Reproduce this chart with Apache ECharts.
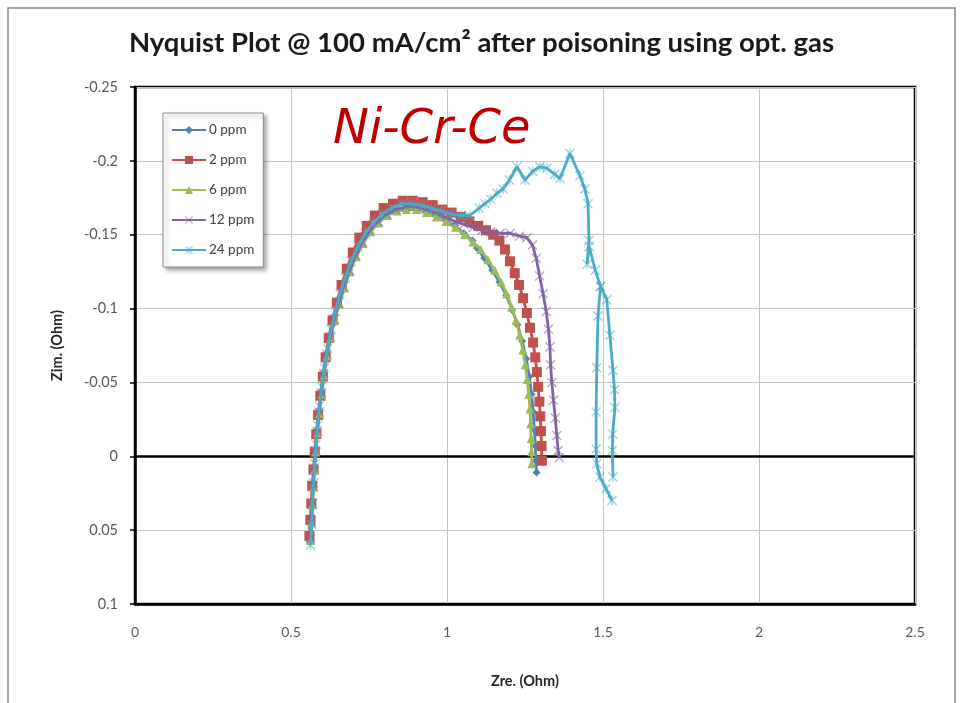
<!DOCTYPE html>
<html>
<head>
<meta charset="utf-8">
<script src="https://cdn.jsdelivr.net/npm/echarts@6/dist/echarts.min.js"></script>
<style>html,body{margin:0;padding:0;background:#fff}#c{width:963px;height:703px}</style>
</head>
<body>
<div id="c"></div>
<script>
const seriesNames = ['0 ppm', '2 ppm', '6 ppm', '12 ppm', '24 ppm'];
const xTicks = [0, 0.5, 1, 1.5, 2, 2.5];
const yTicks = [-0.25, -0.2, -0.15, -0.1, -0.05, 0, 0.05, 0.1];

const ppm0 = [[0.561,0.058],[0.565,0.045],[0.568,0.033],[0.571,0.020],[0.574,0.008],[0.578,-0.004],[0.583,-0.017],[0.589,-0.030],[0.596,-0.043],[0.604,-0.056],[0.614,-0.069],[0.625,-0.081],[0.638,-0.093],[0.652,-0.104],[0.668,-0.115],[0.686,-0.126],[0.706,-0.136],[0.728,-0.145],[0.752,-0.153],[0.778,-0.159],[0.806,-0.164],[0.836,-0.167],[0.868,-0.168],[0.900,-0.168],[0.932,-0.166],[0.964,-0.163],[0.995,-0.160],[1.025,-0.156],[1.054,-0.151],[1.082,-0.146],[1.096,-0.141],[1.120,-0.134],[1.145,-0.126],[1.168,-0.118],[1.190,-0.109],[1.209,-0.099],[1.226,-0.089],[1.241,-0.078],[1.254,-0.066],[1.264,-0.054],[1.271,-0.042],[1.276,-0.030],[1.280,-0.018],[1.283,-0.007],[1.285,0.003],[1.287,0.011]];

const ppm2 = [[0.559,0.054],[0.562,0.043],[0.565,0.032],[0.568,0.020],[0.572,0.009],[0.576,-0.003],[0.581,-0.015],[0.587,-0.028],[0.594,-0.041],[0.602,-0.054],[0.611,-0.067],[0.621,-0.080],[0.633,-0.092],[0.647,-0.104],[0.662,-0.116],[0.679,-0.127],[0.698,-0.138],[0.719,-0.148],[0.743,-0.156],[0.769,-0.163],[0.797,-0.168],[0.827,-0.171],[0.858,-0.173],[0.890,-0.173],[0.922,-0.172],[0.954,-0.170],[0.985,-0.167],[1.015,-0.165],[1.044,-0.162],[1.072,-0.159],[1.100,-0.156],[1.125,-0.153],[1.148,-0.150],[1.168,-0.146],[1.186,-0.140],[1.202,-0.132],[1.217,-0.124],[1.231,-0.116],[1.244,-0.107],[1.256,-0.097],[1.266,-0.087],[1.276,-0.077],[1.283,-0.067],[1.288,-0.057],[1.292,-0.047],[1.296,-0.037],[1.299,-0.027],[1.301,-0.017],[1.303,-0.007],[1.304,0.003]];

const ppm6 = [[0.563,0.057],[0.566,0.045],[0.569,0.033],[0.572,0.021],[0.576,0.009],[0.580,-0.003],[0.585,-0.016],[0.591,-0.029],[0.598,-0.042],[0.606,-0.055],[0.616,-0.068],[0.627,-0.080],[0.640,-0.092],[0.655,-0.103],[0.671,-0.114],[0.689,-0.125],[0.709,-0.135],[0.731,-0.144],[0.755,-0.152],[0.781,-0.158],[0.809,-0.163],[0.839,-0.166],[0.870,-0.167],[0.902,-0.167],[0.934,-0.165],[0.966,-0.162],[0.997,-0.159],[1.027,-0.155],[1.056,-0.150],[1.083,-0.145],[1.108,-0.140],[1.131,-0.133],[1.153,-0.126],[1.173,-0.118],[1.191,-0.110],[1.207,-0.101],[1.221,-0.092],[1.233,-0.082],[1.243,-0.072],[1.251,-0.062],[1.257,-0.052],[1.262,-0.042],[1.266,-0.032],[1.268,-0.022],[1.270,-0.012],[1.271,-0.003],[1.272,0.005]];

const ppm12 = [[0.562,0.056],[0.565,0.044],[0.568,0.032],[0.571,0.020],[0.575,0.008],[0.579,-0.004],[0.584,-0.017],[0.590,-0.030],[0.597,-0.043],[0.605,-0.056],[0.615,-0.069],[0.626,-0.081],[0.639,-0.093],[0.653,-0.104],[0.669,-0.115],[0.687,-0.126],[0.707,-0.136],[0.729,-0.145],[0.753,-0.153],[0.779,-0.159],[0.807,-0.164],[0.837,-0.167],[0.868,-0.169],[0.900,-0.169],[0.932,-0.167],[0.964,-0.165],[0.995,-0.162],[1.025,-0.159],[1.054,-0.157],[1.083,-0.155],[1.112,-0.153],[1.140,-0.152],[1.170,-0.151],[1.202,-0.151],[1.232,-0.149],[1.256,-0.148],[1.274,-0.143],[1.286,-0.134],[1.297,-0.122],[1.308,-0.110],[1.318,-0.098],[1.325,-0.086],[1.330,-0.074],[1.332,-0.062],[1.336,-0.050],[1.341,-0.038],[1.347,-0.026],[1.352,-0.014],[1.356,-0.004],[1.360,0.001]];

const ppm24 = [[0.563,0.060],[0.566,0.046],[0.569,0.032],[0.572,0.018],[0.576,0.005],[0.580,-0.008],[0.585,-0.021],[0.591,-0.034],[0.598,-0.047],[0.607,-0.060],[0.617,-0.073],[0.629,-0.086],[0.642,-0.098],[0.657,-0.110],[0.674,-0.121],[0.693,-0.132],[0.714,-0.142],[0.738,-0.151],[0.764,-0.158],[0.792,-0.164],[0.822,-0.168],[0.854,-0.171],[0.886,-0.171],[0.918,-0.170],[0.950,-0.168],[0.982,-0.166],[1.013,-0.164],[1.043,-0.163],[1.073,-0.163],[1.103,-0.168],[1.122,-0.171],[1.140,-0.174],[1.160,-0.178],[1.180,-0.181],[1.200,-0.187],[1.224,-0.196],[1.250,-0.187],[1.275,-0.193],[1.298,-0.196],[1.320,-0.195],[1.345,-0.191],[1.362,-0.188],[1.394,-0.205],[1.426,-0.190],[1.442,-0.181],[1.452,-0.171],[1.455,-0.146],[1.449,-0.130],[1.456,-0.142],[1.475,-0.126],[1.492,-0.115],[1.512,-0.106],[1.522,-0.082],[1.532,-0.058],[1.537,-0.045],[1.538,-0.033],[1.531,-0.015],[1.530,-0.004],[1.532,0.014],['-','-'],[1.492,-0.115],[1.484,-0.095],[1.480,-0.060],[1.478,-0.030],[1.478,-0.005],[1.480,0.005],[1.490,0.014],[1.510,0.022],[1.529,0.030]];

const colors = ['#4F81BD', '#C0504D', '#9BBB59', '#8064A2', '#4BACC6'];
const markerColors = ['#4F81BD', '#C0504D', '#9BBB59', 'rgba(128,100,162,0.55)', 'rgba(75,172,198,0.55)'];
const xPath = 'path://M0,1 L1,0 L5,4 L9,0 L10,1 L6,5 L10,9 L9,10 L5,6 L1,10 L0,9 L4,5 Z';
const starPath = 'path://M0,1 L1,0 L5,4 L9,0 L10,1 L6,5 L10,9 L9,10 L5,6 L1,10 L0,9 L4,5 Z M4.4,0 L5.6,0 L5.6,10 L4.4,10 Z';
const symbols = ['diamond', 'rect', 'triangle', xPath, starPath];
const symbolSizes = [8, 10, 9, 10, 10];
const datasets = [ppm0, ppm2, ppm6, ppm12, ppm24];

const fmt = v => String(+v.toFixed(2));
const font = 'Lato, "Liberation Sans", sans-serif';

const series = datasets.map((d, i) => ({
  name: seriesNames[i],
  type: 'line',
  data: d,
  smooth: false,
  connectNulls: false,
  symbol: symbols[i],
  symbolSize: symbolSizes[i],
  showAllSymbol: true,
  lineStyle: { color: colors[i], width: 2.8 },
  itemStyle: { color: markerColors[i] },
  emphasis: { disabled: true },
  z: 3 + i
}));
series[0].markLine = {
  silent: true, symbol: 'none', label: { show: false },
  lineStyle: { color: '#000', width: 2.5, type: 'solid' },
  data: [{ yAxis: 0 }], z: 2
};

const chart = echarts.init(document.getElementById('c'), null, { renderer: 'canvas' });
chart.setOption({
  animation: false,
  backgroundColor: '#fff',
  title: {
    text: 'Nyquist Plot @ 100 mA/cm² after poisoning using opt. gas',
    left: 'center', top: 24,
    textStyle: { fontFamily: font, fontWeight: 'bold', fontSize: 27.5, color: '#1a1a1a' }
  },
  graphic: [
    { type: 'rect', shape: { x: 8, y: 8, width: 947, height: 705 }, style: { fill: 'none', stroke: '#8a8a8a', lineWidth: 1.5 }, silent: true, z: -1 },
    { type: 'text', left: 333, top: 107, style: { text: 'Ni-Cr-Ce', fill: '#c00000', font: 'italic 48px "DejaVu Sans", sans-serif' }, z: 10 }
  ],
  legend: {
    orient: 'vertical', left: 163, top: 113,
    itemWidth: 34, itemHeight: 10, itemGap: 16,
    padding: [10, 9, 10, 8],
    backgroundColor: '#fff', borderColor: '#8c8c8c', borderWidth: 1,
    shadowBlur: 4, shadowColor: 'rgba(0,0,0,0.35)', shadowOffsetX: 3, shadowOffsetY: 3,
    textStyle: { fontFamily: font, fontSize: 13.5, color: '#404040', padding: [0, 0, 0, -2] },
    data: seriesNames
  },
  grid: { left: 135, top: 87, width: 780, height: 517, show: true, borderColor: '#000', borderWidth: 2.5, backgroundColor: 'transparent' },
  xAxis: {
    type: 'value', min: xTicks[0], max: xTicks[xTicks.length - 1], interval: 0.5,
    name: 'Zre. (Ohm)', nameLocation: 'middle', nameGap: 70,
    nameTextStyle: { fontFamily: font, fontWeight: 'bold', fontSize: 14.5, color: '#262626' },
    axisLine: { onZero: false, lineStyle: { color: '#000', width: 2.5 } },
    axisTick: { show: false },
    axisLabel: { margin: 21, fontFamily: font, fontSize: 14, color: '#595959', formatter: fmt },
    splitLine: { show: true, lineStyle: { color: '#c4c4c4', width: 1 } }
  },
  yAxis: {
    type: 'value', inverse: true, min: yTicks[0], max: yTicks[yTicks.length - 1], interval: 0.05,
    name: 'Zim. (Ohm)', nameLocation: 'middle', nameGap: 70,
    nameTextStyle: { fontFamily: font, fontWeight: 'bold', fontSize: 14.5, color: '#262626' },
    axisLine: { onZero: false, lineStyle: { color: '#000', width: 2.5 } },
    axisTick: { show: true, length: 5, lineStyle: { color: '#000', width: 1.5 } },
    axisLabel: { margin: 17, fontFamily: font, fontSize: 14.5, color: '#595959', formatter: fmt },
    splitLine: { show: true, lineStyle: { color: '#c4c4c4', width: 1 } }
  },
  series: series
});
</script>
</body>
</html>
